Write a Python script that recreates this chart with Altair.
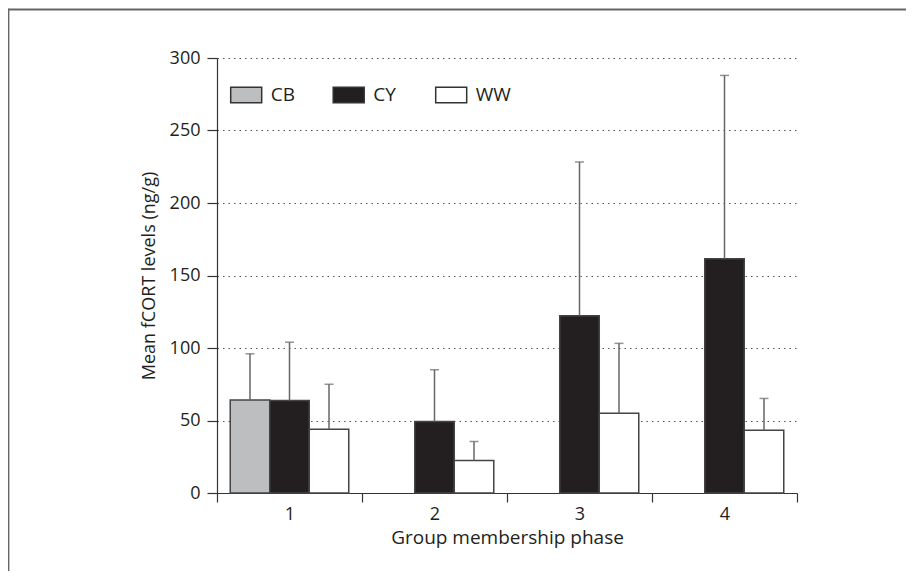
import altair as alt
import pandas as pd

# ---- data ----
phases = ["1", "1", "1", "2", "2", "3", "3", "4", "4"]
groups = ["CB", "CY", "WW", "CY", "WW", "CY", "WW", "CY", "WW"]
means = [64.2, 63.8, 43.9, 49.3, 22.5, 122.3, 55.0, 161.6, 43.2]
err_tops = [96.0, 104.0, 75.0, 85.0, 35.5, 228.3, 103.2, 288.0, 65.2]

phase_order = ["1", "2", "3", "4"]
group_order = ["CB", "CY", "WW"]
group_colors = ["#bcbec0", "#231f20", "#ffffff"]
y_ticks = [0, 50, 100, 150, 200, 250, 300]

df = pd.DataFrame({"phase": phases, "group": groups, "mean": means, "top": err_tops})

FONT = "Open Sans"
TXT = "#231f20"

x_enc = alt.X(
    "phase:N",
    scale=alt.Scale(domain=phase_order, paddingInner=0, paddingOuter=0),
    axis=alt.Axis(
        title="Group membership phase",
        labelAngle=0,
        tickBand="extent",
        tickSize=9,
        tickColor="#333",
        tickWidth=1.2,
        domainColor="#333",
        domainWidth=1.2,
        labelFont=FONT,
        labelFontSize=18,
        labelColor=TXT,
        labelPadding=3,
        titleFont=FONT,
        titleFontSize=19,
        titleFontWeight="normal",
        titleColor=TXT,
        titlePadding=5,
        grid=False,
    ),
)
xoff_enc = alt.XOffset(
    "group:N",
    scale=alt.Scale(domain=group_order, paddingInner=0, paddingOuter=0.335),
)
y_axis = alt.Axis(
    title="Mean fCORT levels (ng/g)",
    values=y_ticks,
    tickSize=10,
    tickColor="#333",
    tickWidth=1.2,
    domainColor="#333",
    domainWidth=1.2,
    labelFont=FONT,
    labelFontSize=18,
    labelColor=TXT,
    labelPadding=7,
    titleFont=FONT,
    titleFontSize=18,
    titleFontWeight="normal",
    titleColor=TXT,
    titlePadding=11,
    grid=True,
    gridColor="#555",
    gridDash=[1.5, 4],
    gridWidth=1,
)
y_scale = alt.Scale(domain=[0, 300], nice=False)

base = alt.Chart(df)

bars = base.mark_bar(stroke="#444", strokeWidth=1.5).encode(
    x=x_enc,
    xOffset=xoff_enc,
    y=alt.Y("mean:Q", scale=y_scale, axis=y_axis),
    fill=alt.Fill(
        "group:N",
        scale=alt.Scale(domain=group_order, range=group_colors),
        legend=alt.Legend(
            title=None,
            orient="none",
            legendX=12.7,
            legendY=20,
            direction="horizontal",
            columns=3,
            symbolType="M-1,-0.5H1V0.5H-1Z",
            symbolSize=961,
            symbolStrokeColor="#333",
            symbolStrokeWidth=1.5,
            symbolOpacity=1,
            labelFont=FONT,
            labelFontSize=19,
            labelColor=TXT,
            labelOffset=8,
            columnPadding=23.5,
            gridAlign="all",
            padding=0,
        ),
    ),
)

err = base.mark_rule(color="#666", strokeWidth=1.5).encode(
    x=x_enc,
    xOffset=xoff_enc,
    y=alt.Y("mean:Q", scale=y_scale, axis=y_axis),
    y2="top:Q",
)

caps = base.mark_tick(orient="horizontal", size=9, thickness=1.5, color="#666").encode(
    x=x_enc,
    xOffset=xoff_enc,
    y=alt.Y("top:Q", scale=y_scale, axis=y_axis),
)

frame_df = pd.DataFrame({"k": [0]})
frame_top = alt.Chart(frame_df).mark_rule(color="#666", strokeWidth=1.8).encode(
    x=alt.value(-209.5), x2=alt.value(700), y=alt.value(-48.5)
)
frame_left = alt.Chart(frame_df).mark_rule(color="#666", strokeWidth=1.8).encode(
    x=alt.value(-208.5), y=alt.value(-49.3), y2=alt.value(520)
)

chart = (
    alt.layer(bars, err, caps, frame_top, frame_left)
    .properties(
        width=580,
        height=435,
        autosize=alt.AutoSizeParams(type="none"),
        padding={"left": 209, "top": 50, "right": 109, "bottom": 78},
        background="white",
    )
    .configure_view(stroke=None)
)

chart.save("out.html", embed_options={"renderer": "svg", "actions": False})
